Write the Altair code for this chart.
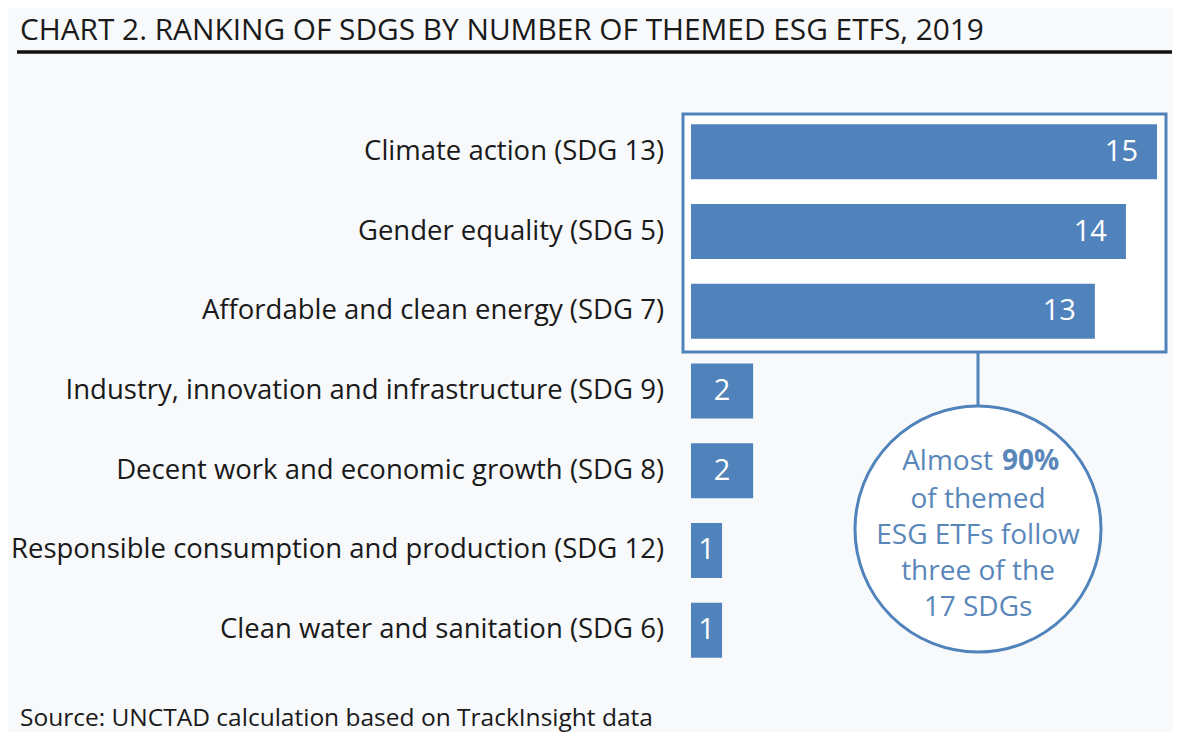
import altair as alt
import pandas as pd

categories = [
    "Climate action (SDG 13)",
    "Gender equality (SDG 5)",
    "Affordable and clean energy (SDG 7)",
    "Industry, innovation and infrastructure (SDG 9)",
    "Decent work and economic growth (SDG 8)",
    "Responsible consumption and production (SDG 12)",
    "Clean water and sanitation (SDG 6)",
]
values = [15, 14, 13, 2, 2, 1, 1]

title_text = "CHART 2. RANKING OF SDGS BY NUMBER OF THEMED ESG ETFS, 2019"
source_text = "Source: UNCTAD calculation based on TrackInsight data"
circle_lines = ["of themed", "ESG ETFs follow", "three of the", "17 SDGs"]

BLUE = "#5083bb"
TXT_BLUE = "#5a87ba"
FONT = "Open Sans"

df = pd.DataFrame({"label": categories, "value": values})
one = pd.DataFrame({"k": [0]})

x_enc = alt.X("value:Q", scale=alt.Scale(domain=[0, 15], nice=False, zero=True), axis=None)
y_enc = alt.Y("label:N", sort=categories,
              scale=alt.Scale(paddingInner=0.31, paddingOuter=0.155), axis=None)

base = alt.Chart(df)

# highlight box around top three
box = alt.Chart(one).mark_rect(fill="white", stroke=BLUE, strokeWidth=3).encode(
    x=alt.value(-8), x2=alt.value(475), y=alt.value(2), y2=alt.value(240))

connector = alt.Chart(one).mark_rule(color=BLUE, strokeWidth=3).encode(
    x=alt.value(287), y=alt.value(240), y2=alt.value(294))

circle = alt.Chart(one).mark_circle(size=246 * 246, fill="white", stroke=BLUE,
                                    strokeWidth=3, opacity=1, fillOpacity=1).encode(
    x=alt.value(287), y=alt.value(417))

bars = base.mark_bar(color=BLUE).encode(x=x_enc, y=y_enc)

big_labels = base.transform_filter("datum.value >= 10").mark_text(
    align="right", baseline="middle", dx=-19, color="white", fontSize=29, font=FONT
).encode(x=x_enc, y=y_enc, text="value:Q")

small_labels = base.transform_filter("datum.value < 10").transform_calculate(
    mid="datum.value / 2"
).mark_text(align="center", baseline="middle", color="white", fontSize=29, font=FONT).encode(
    x=alt.X("mid:Q", scale=alt.Scale(domain=[0, 15], nice=False, zero=True), axis=None),
    y=y_enc, text="value:Q")

cat_labels = base.mark_text(align="right", baseline="middle", fontSize=27.5, font=FONT,
                            color="#1a1a1a").encode(
    x=alt.value(-27), y=y_enc, text="label:N")

title = alt.Chart(one).mark_text(align="left", baseline="alphabetic", fontSize=29.8,
                                 font=FONT, color="#1a1a1a", text=title_text).encode(
    x=alt.value(-671), y=alt.value(-72))

title_rule = alt.Chart(one).mark_rule(color="#111111", strokeWidth=3.5).encode(
    x=alt.value(-674), x2=alt.value(481), y=alt.value(-60))

source = alt.Chart(one).mark_text(align="left", baseline="alphabetic", fontSize=24.5,
                                  font=FONT, color="#1a1a1a", text=source_text).encode(
    x=alt.value(-671), y=alt.value(614))

almost = alt.Chart(one).mark_text(align="right", baseline="middle", fontSize=28,
                                  font=FONT, color=TXT_BLUE, text="Almost").encode(
    x=alt.value(302), y=alt.value(350))
ninety = alt.Chart(one).mark_text(align="left", baseline="middle", fontSize=28,
                                  font=FONT, fontWeight="bold", color=TXT_BLUE, text="90%").encode(
    x=alt.value(311), y=alt.value(350))

circ_df = pd.DataFrame({"line": circle_lines, "i": list(range(len(circle_lines)))})
circ_text = alt.Chart(circ_df).transform_calculate(
    py="388 + datum.i * 36"
).mark_text(align="center", baseline="middle", fontSize=28, font=FONT, color=TXT_BLUE).encode(
    x=alt.value(287),
    y=alt.Y("py:Q", scale=None, axis=None),
    text="line:N")

chart = alt.layer(
    box, connector, circle, bars, big_labels, small_labels, cat_labels,
    title, title_rule, source, almost, ninety, circ_text
).properties(
    width=466, height=558,
    autosize=alt.AutoSizeParams(type="none"),
    padding={"left": 683, "top": 104, "right": 16, "bottom": 62},
    background="#f8f9fa",
).configure_view(stroke=None)

chart.save("out.html", embed_options={"renderer": "svg", "actions": False})
